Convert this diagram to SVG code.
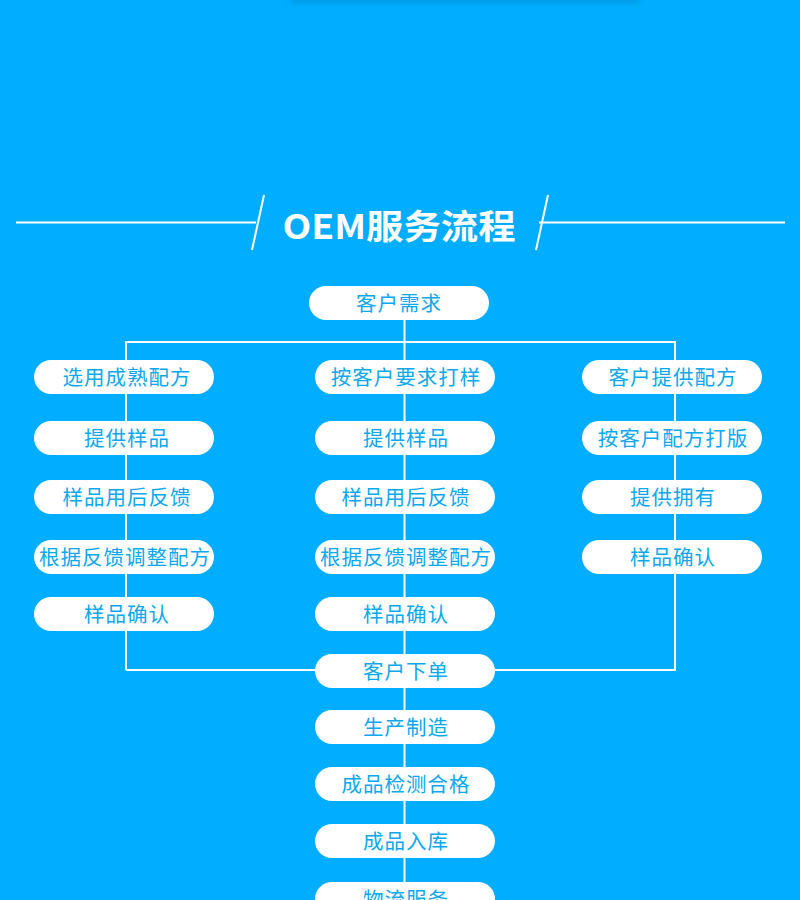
<svg xmlns="http://www.w3.org/2000/svg" width="800" height="900" viewBox="0 0 800 900">
<defs>
<filter id="blur" x="-20%" y="-200%" width="140%" height="500%"><feGaussianBlur stdDeviation="3"/></filter>
<style>
.pill{fill:#ffffff}
.t{font-family:"Noto Sans CJK SC","Noto Sans",sans-serif;font-size:20.5px;fill:#0aa8ee;text-anchor:middle;letter-spacing:1px}
.ln{stroke:#ffffff;stroke-width:2;fill:none}
</style>
</defs>
<rect width="800" height="900" fill="#00adfe"/>
<rect x="290" y="-6" width="350" height="8" fill="#0588c8" opacity="0.6" filter="url(#blur)"/>
<g id="title">
<line class="ln" x1="16" y1="222.5" x2="256" y2="222.5"/>
<line class="ln" x1="264" y1="195" x2="252" y2="250"/>
<line class="ln" x1="548" y1="195" x2="536" y2="250"/>
<line class="ln" x1="539" y1="222.5" x2="785" y2="222.5"/>
<text x="399" y="239" font-family="'Noto Sans CJK SC','Noto Sans',sans-serif" font-size="34" font-weight="700" fill="#ffffff" text-anchor="middle" textLength="233" lengthAdjust="spacingAndGlyphs">OEM服务流程</text>
</g>
<g id="connectors">
<polyline class="ln" points="404.5,320 404.5,900"/>
<polyline class="ln" points="126,670 126,342 675,342 675,670 495,670"/>
<line class="ln" x1="126" y1="670" x2="315" y2="670"/>
</g>
<g id="n_need"><rect class="pill" x="309" y="286" width="180" height="34" rx="17"/><text class="t" x="399" y="310.5">客户需求</text></g>
<g id="n_l1"><rect class="pill" x="34" y="360" width="180" height="34" rx="17"/><text class="t" x="127" y="384.5">选用成熟配方</text></g>
<g id="n_l2"><rect class="pill" x="34" y="421" width="180" height="34" rx="17"/><text class="t" x="127" y="445.5">提供样品</text></g>
<g id="n_l3"><rect class="pill" x="34" y="480" width="180" height="34" rx="17"/><text class="t" x="127" y="504.5">样品用后反馈</text></g>
<g id="n_l4"><rect class="pill" x="34" y="540" width="180" height="34" rx="17"/><text class="t" x="125" y="564.5">根据反馈调整配方</text></g>
<g id="n_l5"><rect class="pill" x="34" y="597" width="180" height="34" rx="17"/><text class="t" x="127" y="621.5">样品确认</text></g>
<g id="n_m1"><rect class="pill" x="315" y="360" width="180" height="34" rx="17"/><text class="t" x="406" y="384.5">按客户要求打样</text></g>
<g id="n_m2"><rect class="pill" x="315" y="421" width="180" height="34" rx="17"/><text class="t" x="406" y="445.5">提供样品</text></g>
<g id="n_m3"><rect class="pill" x="315" y="480" width="180" height="34" rx="17"/><text class="t" x="406" y="504.5">样品用后反馈</text></g>
<g id="n_m4"><rect class="pill" x="315" y="540" width="180" height="34" rx="17"/><text class="t" x="406" y="564.5">根据反馈调整配方</text></g>
<g id="n_m5"><rect class="pill" x="315" y="597" width="180" height="34" rx="17"/><text class="t" x="406" y="621.5">样品确认</text></g>
<g id="n_r1"><rect class="pill" x="582" y="360" width="180" height="34" rx="17"/><text class="t" x="673" y="384.5">客户提供配方</text></g>
<g id="n_r2"><rect class="pill" x="582" y="421" width="180" height="34" rx="17"/><text class="t" x="673" y="445.5">按客户配方打版</text></g>
<g id="n_r3"><rect class="pill" x="582" y="480" width="180" height="34" rx="17"/><text class="t" x="673" y="504.5">提供拥有</text></g>
<g id="n_r4"><rect class="pill" x="582" y="540" width="180" height="34" rx="17"/><text class="t" x="673" y="564.5">样品确认</text></g>
<g id="n_order"><rect class="pill" x="315" y="654" width="180" height="34" rx="17"/><text class="t" x="406" y="678.5">客户下单</text></g>
<g id="n_prod"><rect class="pill" x="315" y="710" width="180" height="34" rx="17"/><text class="t" x="406" y="734.5">生产制造</text></g>
<g id="n_qc"><rect class="pill" x="315" y="767" width="180" height="34" rx="17"/><text class="t" x="406" y="791.5">成品检测合格</text></g>
<g id="n_store"><rect class="pill" x="315" y="824" width="180" height="34" rx="17"/><text class="t" x="406" y="848.5">成品入库</text></g>
<g id="n_ship"><rect class="pill" x="315" y="882" width="180" height="34" rx="17"/><text class="t" x="406" y="906.5">物流服务</text></g>
</svg>
